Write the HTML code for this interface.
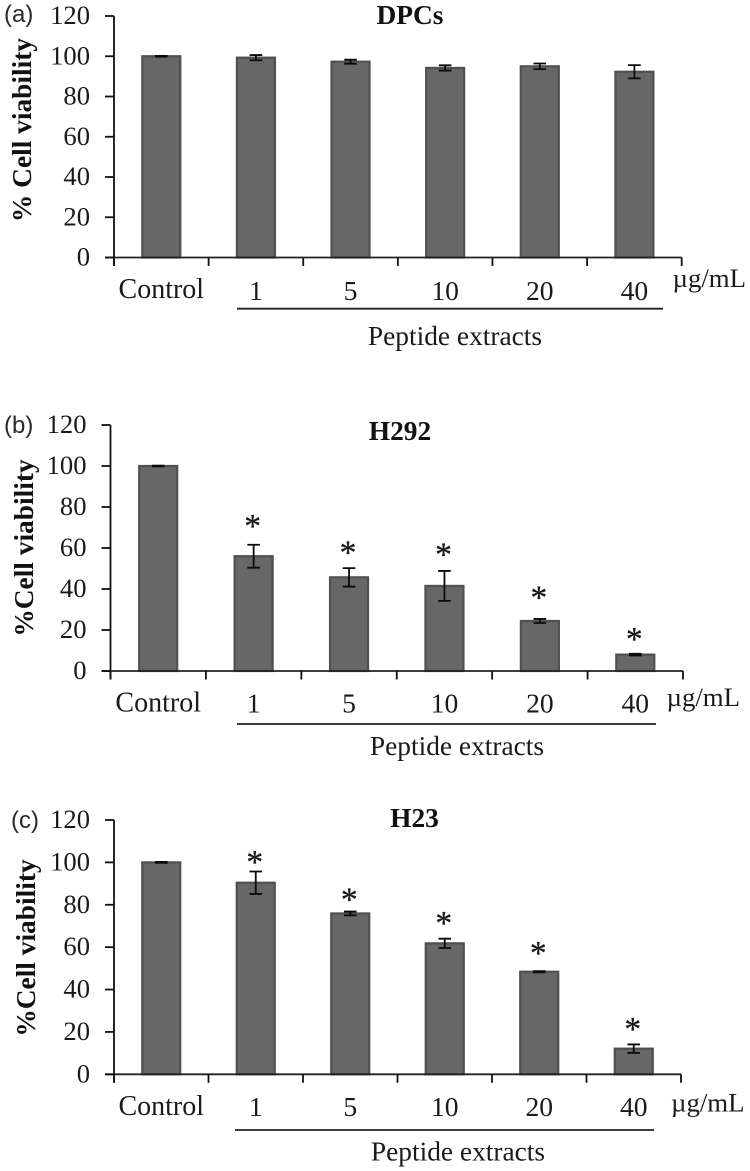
<!DOCTYPE html>
<html lang="en">
<head>
<meta charset="utf-8">
<title>Cell viability after peptide extract treatment</title>
<style>
html,body{margin:0;padding:0;background:#fff;width:750px;height:1171px;overflow:hidden}
svg{display:block}
text{font-family:"Liberation Serif",serif;fill:#1a1a1a}
.sans{font-family:"Liberation Sans",sans-serif;font-size:24px;fill:#2a2a2a}
.bold{font-weight:bold;font-size:27.4px;fill:#111}
.lab{font-size:27.4px}
.unit{font-size:26.8px}
</style>
</head>
<body>
<svg id="figure" width="750" height="1171" viewBox="0 0 750 1171" xmlns="http://www.w3.org/2000/svg">
  <text class="sans" x="4" y="22">(a)</text>
  <text class="sans" x="4" y="433">(b)</text>
  <text class="sans" x="11" y="828">(c)</text>

  <text class="bold" x="410" y="24" text-anchor="middle">DPCs</text>
  <text class="bold" x="400" y="440" text-anchor="middle">H292</text>
  <text class="bold" x="414.5" y="827" text-anchor="middle">H23</text>

  <text class="bold" transform="translate(31,130) rotate(-90)" text-anchor="middle">% Cell viability</text>
  <text class="bold" transform="translate(33,548) rotate(-90)" text-anchor="middle">%Cell viability</text>
  <text class="bold" transform="translate(35,948) rotate(-90)" text-anchor="middle">%Cell viability</text>

  <text class="unit" x="672.5" y="287">µg/mL</text>
  <text class="unit" x="666.5" y="706">µg/mL</text>
  <text class="unit" x="671" y="1111.5">µg/mL</text>

  <line x1="237" x2="663" y1="308.7" y2="308.7" stroke="#222" stroke-width="1.8"/>
  <line x1="237" x2="656" y1="724" y2="724" stroke="#222" stroke-width="1.8"/>
  <line x1="235" x2="654" y1="1130" y2="1130" stroke="#222" stroke-width="1.8"/>

  <text class="lab" x="455" y="345" text-anchor="middle">Peptide extracts</text>
  <text class="lab" x="457" y="755" text-anchor="middle">Peptide extracts</text>
  <text class="lab" x="458" y="1160.5" text-anchor="middle">Peptide extracts</text>
</svg>
<script>
var categories = ['Control', '1', '5', '10', '20', '40'];
var yTickLabels = [0, 20, 40, 60, 80, 100, 120];

var dpcValues = [100, 99.3, 97.3, 94.2, 95, 92.3];
var dpcErrors = [0.2, 1.3, 1, 1.3, 1.4, 3.3];
var dpcStarGaps = [null, null, null, null, null, null];

var h292Values = [100, 56, 45.7, 41.5, 24.4, 8];
var h292Errors = [0.2, 5.6, 4.5, 7.3, 1, 0.4];
var h292StarGaps = [null, 10.4, 8.8, 9.2, 11.6, 8.3];

var h23Values = [100, 90.4, 75.9, 61.8, 48.4, 12.1];
var h23Errors = [0.2, 5.3, 0.9, 2.2, 0.3, 2];
var h23StarGaps = [null, 5.7, 6.7, 8.5, 9.6, 8.4];

var svgNS = 'http://www.w3.org/2000/svg';
var figure = document.getElementById('figure');

function addEl(tag, attrs, content) {
  var el = document.createElementNS(svgNS, tag);
  for (var k in attrs) el.setAttribute(k, attrs[k]);
  if (content !== undefined) el.textContent = content;
  figure.appendChild(el);
  return el;
}

function drawPanel(id, frame, values, errors, starGaps) {
  var yScale = function (v) { return frame.zero - v * (frame.zero - frame.top) / 120; };
  var band = (frame.right - frame.left) / categories.length;
  var xCenter = function (i) { return frame.left + band * (i + 0.5); };
  var barWidth = 38;
  var el;

  values.forEach(function (v, i) {
    var y = yScale(v);
    el = addEl('rect', { x: xCenter(i) - barWidth / 2, y: y, width: barWidth, height: frame.zero - y, fill: '#676767', stroke: '#505050', 'stroke-width': 2.2 });
    
    
  });

  errors.forEach(function (e, i) {
    var cx = xCenter(i);
    var hi = yScale(values[i] + e);
    var lo = yScale(values[i] - e);
    el = addEl('path', { d: 'M' + (cx - 6.3) + ' ' + hi + 'H' + (cx + 6.3) + 'M' + cx + ' ' + hi + 'V' + lo + 'M' + (cx - 6.3) + ' ' + lo + 'H' + (cx + 6.3), fill: 'none', stroke: '#0a0a0a', 'stroke-width': 1.8 });
    
    
  });

  starGaps.forEach(function (gap, i) {
    if (gap === null) return;
    el = addEl('text', { x: xCenter(i) - 1, y: yScale(values[i] + errors[i] + gap) + 13.4, 'text-anchor': 'middle', 'font-size': 33.5, fill: '#111', stroke: '#111', 'stroke-width': 0.3 }, '*');
    
    
  });

  el = addEl('line', { x1: frame.left, x2: frame.left, y1: frame.top, y2: frame.zero + 8.5, stroke: '#111', 'stroke-width': 1.8 });
  
  

  el = addEl('line', { x1: frame.left - 9, x2: frame.right, y1: frame.zero, y2: frame.zero, stroke: '#222', 'stroke-width': 1.8 });
  
  

  yTickLabels.forEach(function (t) {
    var y = yScale(t);
    el = addEl('line', { x1: frame.left - 9, x2: frame.left, y1: y, y2: y, stroke: '#111', 'stroke-width': 1.8 });
    
    
    el = addEl('text', { x: frame.left - 24, y: y + 8, 'text-anchor': 'end', 'font-size': 26.6 }, String(t));
    
    
  });

  for (var b = 0; b <= categories.length; b++) {
    var tx = frame.left + band * b;
    el = addEl('line', { x1: tx, x2: tx, y1: frame.zero, y2: frame.zero + 8.5, stroke: '#111', 'stroke-width': 1.8 });
    
    
  }

  categories.forEach(function (c, i) {
    el = addEl('text', { x: xCenter(i), y: frame.zero + (i === 0 ? frame.ctrlDrop : frame.numDrop), 'text-anchor': 'middle', 'font-size': i === 0 ? 28 : 27.6 }, c);
    
    
  });
}

drawPanel('a', { left: 114, right: 681.7, top: 16, zero: 257.5, ctrlDrop: 40.5, numDrop: 42.5 }, dpcValues, dpcErrors, dpcStarGaps);
drawPanel('b', { left: 110.5, right: 683, top: 425, zero: 671, ctrlDrop: 40.7, numDrop: 41.7 }, h292Values, h292Errors, h292StarGaps);
drawPanel('c', { left: 114, right: 681, top: 820, zero: 1074.3, ctrlDrop: 40.7, numDrop: 41.7 }, h23Values, h23Errors, h23StarGaps);
</script>
</body>
</html>
